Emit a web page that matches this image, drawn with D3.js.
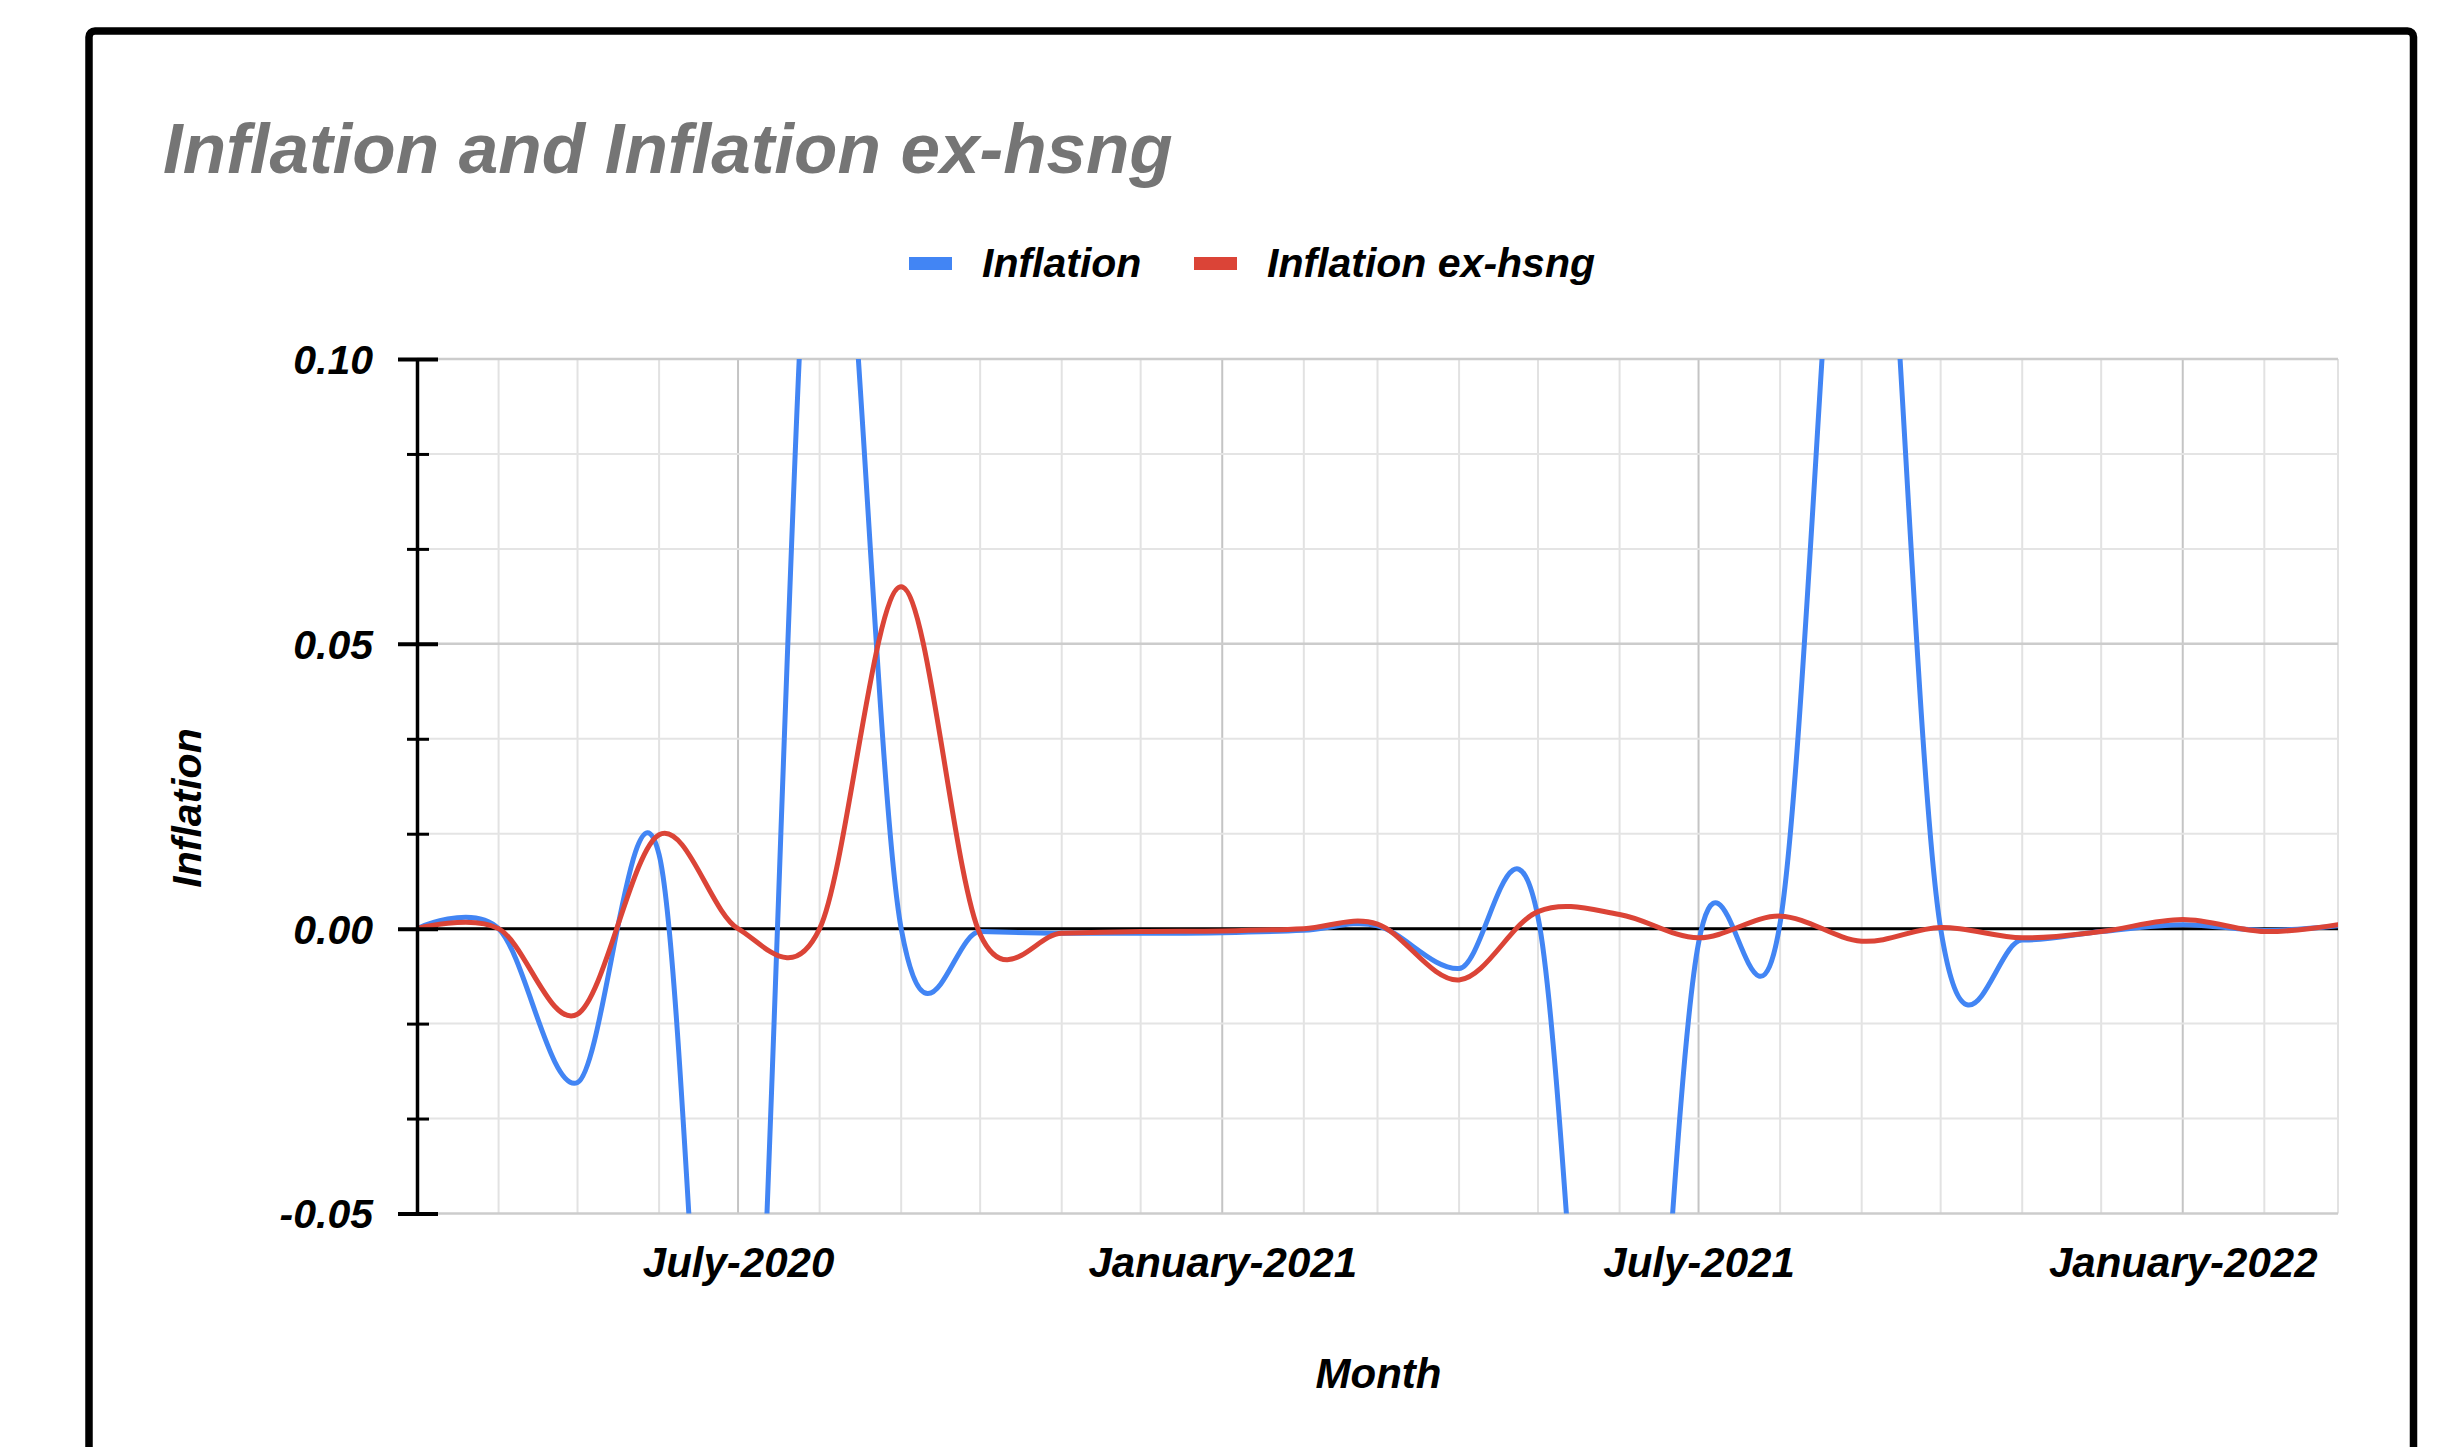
<!DOCTYPE html>
<html>
<head>
<meta charset="utf-8">
<script src="https://cdn.jsdelivr.net/npm/d3@7"></script>
<style>
  html, body { margin: 0; padding: 0; background: #ffffff; }
  svg { display: block; }
  text { font-family: "Liberation Sans", Arial, sans-serif; font-weight: bold; font-style: italic; }
</style>
</head>
<body>
<svg id="chart" width="2452" height="1447"></svg>
<script>
// Monthly observations, March 2020 through March 2022
const months = [
  "2020-03", "2020-04", "2020-05", "2020-06", "2020-07", "2020-08", "2020-09",
  "2020-10", "2020-11", "2020-12", "2021-01", "2021-02", "2021-03", "2021-04",
  "2021-05", "2021-06", "2021-07", "2021-08", "2021-09", "2021-10", "2021-11",
  "2021-12", "2022-01", "2022-02", "2022-03"
];

const inflation = [
  0.000, 0.000, -0.027, 0.013, -0.140, 0.152, 0.000,
  -0.0005, -0.0008, -0.0008, -0.0007, -0.0003, 0.0005, -0.007,
  0.002, -0.147, -0.0025, 0.001, 0.172, 0.000, -0.002,
  -0.0005, 0.0007, -0.0003, 0.0005
];

const inflationExHsng = [
  0.000, 0.000, -0.015, 0.0165, 0.000, 0.000, 0.060,
  -0.001, -0.0008, -0.0005, -0.0004, 0.000, 0.0008, -0.009,
  0.003, 0.0025, -0.0016, 0.0022, -0.0022, 0.0002, -0.0016,
  -0.0005, 0.0016, -0.0005, 0.0007
];

const seriesNames = ["Inflation", "Inflation ex-hsng"];
const seriesColors = ["#4285f4", "#db4437"];

const yMajorTicks = [-0.05, 0.00, 0.05, 0.10];
const yMinorPerMajor = 3;

const xTickMonths = ["2020-07", "2021-01", "2021-07", "2022-01"];
const xTickLabels = ["July-2020", "January-2021", "July-2021", "January-2022"];

const chartTitle = "Inflation and Inflation ex-hsng";
const xAxisTitle = "Month";
const yAxisTitle = "Inflation";

// ---- layout ----
const W = 2452, H = 1447;
const plot = { left: 417, right: 2338, top: 359, bottom: 1213.5 };

const parseMonth = d3.utcParse("%Y-%m");
const dates = months.map(parseMonth);

const x = d3.scaleUtc()
  .domain([dates[0], dates[dates.length - 1]])
  .range([plot.left, plot.right]);

const y = d3.scaleLinear()
  .domain([yMajorTicks[0], yMajorTicks[yMajorTicks.length - 1]])
  .range([plot.bottom, plot.top]);

const svg = d3.select("#chart");

svg.append("rect").attr("width", W).attr("height", H).attr("fill", "#ffffff");

// outer frame (runs off the bottom edge)
svg.append("rect")
  .attr("x", 89).attr("y", 31)
  .attr("width", 2413.5 - 89).attr("height", H)
  .attr("rx", 6)
  .attr("fill", "none")
  .attr("stroke", "#000000")
  .attr("stroke-width", 7.5);

// title
svg.append("text")
  .attr("x", 163).attr("y", 173)
  .attr("font-size", 71)
  .attr("fill", "#757575")
  .text(chartTitle);

// ---- gridlines ----
const minorStep = (yMajorTicks[1] - yMajorTicks[0]) / yMinorPerMajor;
const yGridValues = d3.range((yMajorTicks.length - 1) * yMinorPerMajor + 1)
  .map(i => yMajorTicks[0] + i * minorStep);
const isMajorY = (i) => i % yMinorPerMajor === 0;

const grid = svg.append("g").attr("class", "grid");

const monthLines = d3.utcMonth.range(dates[1], d3.utcDay.offset(dates[dates.length - 1], 1));
const xMajorDates = xTickMonths.map(parseMonth);
const isMajorX = (d) => xMajorDates.some(m => +m === +d);

grid.selectAll("line.vgrid")
  .data(monthLines)
  .join("line")
  .attr("class", "vgrid")
  .attr("x1", d => x(d)).attr("x2", d => x(d))
  .attr("y1", plot.top).attr("y2", plot.bottom)
  .attr("stroke", d => isMajorX(d) ? "#c4c4c4" : "#e2e2e2")
  .attr("stroke-width", 2);

grid.selectAll("line.hgrid")
  .data(yGridValues)
  .join("line")
  .attr("class", "hgrid")
  .attr("x1", plot.left).attr("x2", plot.right)
  .attr("y1", d => y(d)).attr("y2", d => y(d))
  .attr("stroke", (d, i) => isMajorY(i) ? "#cccccc" : "#e4e4e4")
  .attr("stroke-width", (d, i) => isMajorY(i) ? 2.5 : 2);

// ---- series ----
svg.append("clipPath").attr("id", "plot-clip")
  .append("rect")
  .attr("x", plot.left).attr("y", plot.top)
  .attr("width", plot.right - plot.left)
  .attr("height", plot.bottom - plot.top);

const line = d3.line()
  .x(d => x(d.date))
  .y(d => y(d.value))
  .curve(d3.curveCardinal.tension(0));

const series = [inflation, inflationExHsng].map((vals, k) => ({
  name: seriesNames[k],
  color: seriesColors[k],
  points: vals.map((v, i) => ({ date: dates[i], value: v }))
}));

// zero baseline
svg.append("line")
  .attr("x1", plot.left).attr("x2", plot.right)
  .attr("y1", y(0)).attr("y2", y(0))
  .attr("stroke", "#000000")
  .attr("stroke-width", 3);

svg.append("g").attr("clip-path", "url(#plot-clip)")
  .selectAll("path")
  .data(series)
  .join("path")
  .attr("d", d => line(d.points))
  .attr("fill", "none")
  .attr("stroke", d => d.color)
  .attr("stroke-width", 5)
  .attr("stroke-linejoin", "round")
  .attr("stroke-linecap", "round");

// ---- y axis ----
const yAxis = d3.axisLeft(y)
  .tickValues(yGridValues)
  .tickSizeOuter(0)
  .tickSizeInner(19)
  .tickFormat((d, i) => isMajorY(i) ? yMajorTicks[i / yMinorPerMajor].toFixed(2) : "");

const yAxisG = svg.append("g")
  .attr("transform", `translate(${plot.left},0)`)
  .call(yAxis);

yAxisG.select(".domain").attr("stroke", "#000").attr("stroke-width", 3.5);
yAxisG.selectAll(".tick line")
  .attr("stroke", "#000")
  .attr("x1", (d, i) => isMajorY(i) ? -19 : -10)
  .attr("x2", (d, i) => isMajorY(i) ? 21 : 12)
  .attr("stroke-width", (d, i) => isMajorY(i) ? 4 : 3);
yAxisG.selectAll(".tick text")
  .attr("x", -44)
  .attr("dy", "0.35em")
  .attr("fill", "#000")
  .attr("font-size", 41)
  .attr("font-family", null);

// ---- x axis labels ----
const xAxis = d3.axisBottom(x)
  .tickValues(xMajorDates)
  .tickSize(0)
  .tickFormat((d, i) => xTickLabels[i]);

const xAxisG = svg.append("g")
  .attr("transform", `translate(0,${plot.bottom})`)
  .call(xAxis);
xAxisG.select(".domain").remove();
xAxisG.selectAll(".tick text")
  .attr("y", 63)
  .attr("dy", 0)
  .attr("fill", "#000")
  .attr("font-size", 42)
  .attr("font-family", null);

// ---- axis titles ----
svg.append("text")
  .attr("x", (plot.left + plot.right) / 2 + 1).attr("y", 1388)
  .attr("text-anchor", "middle")
  .attr("font-size", 42)
  .attr("fill", "#000")
  .text(xAxisTitle);

svg.append("text")
  .attr("transform", "translate(201,808) rotate(-90)")
  .attr("text-anchor", "middle")
  .attr("font-size", 41)
  .attr("fill", "#000")
  .text(yAxisTitle);

// ---- legend ----
const legendItems = [
  { name: seriesNames[0], color: seriesColors[0], x: 909 },
  { name: seriesNames[1], color: seriesColors[1], x: 1194 }
];
const legend = svg.append("g").attr("class", "legend");
legend.selectAll("rect")
  .data(legendItems)
  .join("rect")
  .attr("x", d => d.x).attr("y", 257)
  .attr("width", 43).attr("height", 13)
  .attr("fill", d => d.color);
legend.selectAll("text")
  .data(legendItems)
  .join("text")
  .attr("x", d => d.x + 73).attr("y", 277)
  .attr("font-size", 41)
  .attr("fill", "#000")
  .text(d => d.name);
</script>
</body>
</html>
